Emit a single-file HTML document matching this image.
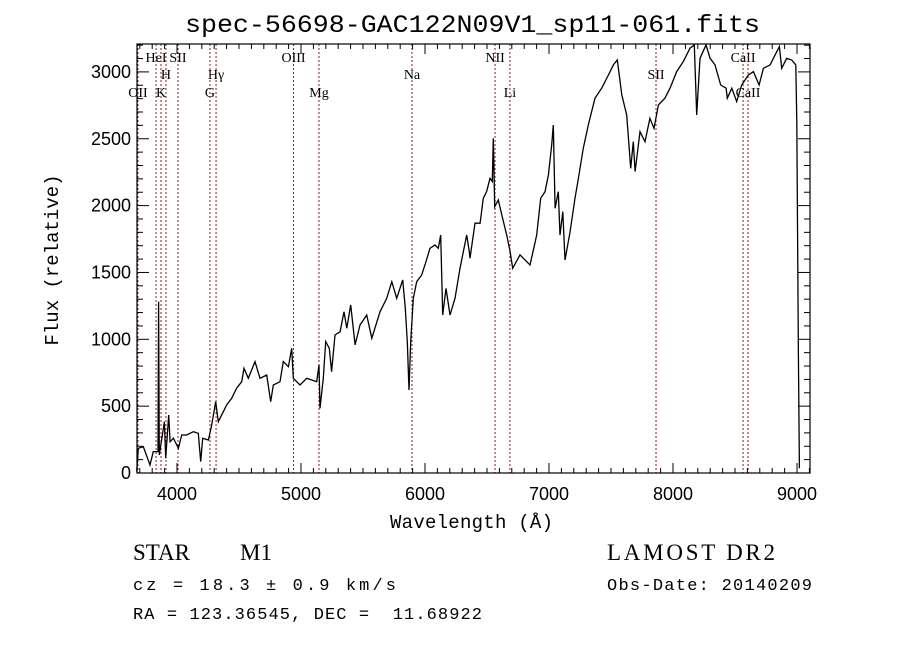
<!DOCTYPE html>
<html><head><meta charset="utf-8"><style>
body{margin:0;background:#fff;}
svg{display:block;}
text{fill:#000;}
</style></head><body>
<svg id="chart" width="900" height="649" viewBox="0 0 900 649" xmlns="http://www.w3.org/2000/svg">
<rect width="900" height="649" fill="#fff"/>
<text x="185" y="32" textLength="575" lengthAdjust="spacingAndGlyphs" font-family="Liberation Mono, monospace" font-size="25">spec-56698-GAC122N09V1_sp11-061.fits</text>
<g id="lines"></g>
<g id="ticks"></g>
<g id="labels"></g>
<polyline id="spec" fill="none" stroke="#000" stroke-width="1.3"/>
<rect x="137" y="44" width="673" height="429" fill="none" stroke="#000" stroke-width="1.2"/>
<text x="390" y="528" textLength="163" font-family="Liberation Mono, monospace" font-size="19">Wavelength (Å)</text>
<text transform="translate(58,260) rotate(-90)" text-anchor="middle" font-family="Liberation Mono, monospace" font-size="19">Flux (relative)</text>
<text x="133" y="560" font-family="Liberation Serif, serif" font-size="23">STAR</text>
<text x="240" y="560" font-family="Liberation Serif, serif" font-size="23">M1</text>
<text x="133" y="590" textLength="263" font-family="Liberation Mono, monospace" font-size="17">cz = 18.3 ± 0.9 km/s</text>
<text x="133" y="619" textLength="349" font-family="Liberation Mono, monospace" font-size="17" xml:space="preserve">RA = 123.36545, DEC =  11.68922</text>
<text x="607" y="560" textLength="168" font-family="Liberation Serif, serif" font-size="23">LAMOST DR2</text>
<text x="607" y="590" textLength="205" font-family="Liberation Mono, monospace" font-size="17">Obs-Date: 20140209</text>
</svg>
<script>
const wavelengths=[3675,3688,3728,3782,3809,3847,3852,3857,3898,3909,3933,3944,3971,4011,4038,4078,4132,4172,4191,4207,4253,4280,4312,4333,4401,4441,4481,4522,4540,4575,4629,4669,4723,4756,4777,4831,4857,4898,4925,4938,4992,5046,5127,5145,5153,5180,5199,5228,5247,5274,5315,5347,5369,5401,5436,5476,5530,5571,5637,5691,5732,5772,5820,5841,5857,5871,5885,5906,5933,5973,6008,6040,6081,6107,6127,6143,6169,6202,6242,6282,6336,6357,6363,6403,6444,6470,6497,6524,6543,6551,6562,6591,6619,6659,6686,6707,6766,6847,6901,6933,6968,6995,7022,7035,7049,7075,7089,7111,7129,7170,7210,7237,7277,7317,7371,7425,7479,7519,7551,7587,7627,7659,7680,7694,7734,7774,7814,7847,7882,7935,7976,8030,8083,8137,8172,8191,8218,8266,8299,8339,8385,8428,8438,8474,8514,8554,8608,8648,8694,8729,8783,8823,8858,8877,8917,8957,8990,8998,9011,9019];
const fluxes=[10,185,197,60,160,160,1281,135,384,110,434,234,260,185,284,284,309,297,85,260,247,359,533,384,509,559,634,683,783,708,833,708,733,533,658,683,833,795,933,708,658,708,683,808,484,708,982,933,758,1032,1057,1206,1082,1257,958,1107,1182,1008,1206,1307,1431,1307,1444,1232,982,621,982,1307,1431,1481,1581,1681,1705,1681,1780,1182,1381,1182,1307,1531,1780,1656,1606,1868,1868,2055,2104,2204,2180,2503,1992,2042,1930,1780,1656,1531,1631,1556,1780,2055,2104,2229,2453,2603,1980,2104,1780,1955,1593,1805,2055,2204,2429,2603,2803,2878,2977,3052,3089,2828,2678,2279,2478,2254,2553,2478,2653,2578,2753,2803,2878,3002,3077,3177,3201,2678,3102,3201,3102,3052,2902,2878,2803,2878,2778,2902,2977,3002,2902,3027,3052,3127,3189,3027,3102,3089,3052,2628,883,35];
const xTickValues=[4000,5000,6000,7000,8000,9000];
const yTickValues=[0,500,1000,1500,2000,2500,3000];
const lineNames=["OII","HeI","H","K","SII","Hγ","G","OIII","Mg","Na","NII","Li","SII","CaII","CaII"];
const lineWaves=[3685,3831,3911,3871,4008,4315,4266,4940,5145,5895,6565,6685,7863,8565,8605];
const lineRows=[2,0,1,2,0,1,2,0,2,1,0,2,1,0,2];
const X0=177,XS=0.124,Y0=473,YS=0.1337,L=137,R=810,T=44,B=473;
const xs=l=>X0+(l-4000)*XS, ys=f=>Y0-f*YS;
const NS="http://www.w3.org/2000/svg";
function mk(tag,attrs,parent){const e=document.createElementNS(NS,tag);for(const k in attrs)e.setAttribute(k,attrs[k]);parent.appendChild(e);return e;}
document.getElementById('spec').setAttribute('points',wavelengths.map((w,i)=>xs(w).toFixed(1)+','+ys(fluxes[i]).toFixed(1)).join(' '));
const lg=document.getElementById('lines');
const rowY=[62,79,97];
lineWaves.forEach((w,i)=>{
  const ln=mk('line',{x1:xs(w),x2:xs(w),y1:T,y2:B,stroke:'#8b1a1a','stroke-width':1,'stroke-dasharray':'2,2'},lg);
  
  
  const t=mk('text',{x:xs(w),y:rowY[lineRows[i]],'text-anchor':'middle','font-family':'Liberation Serif, serif','font-size':14},lg);
  t.textContent=lineNames[i];
  
  
});
const tg=document.getElementById('ticks'),lb=document.getElementById('labels');
for(let w=3700;w<=9100;w+=100){const x=xs(w);if(x<L||x>R)continue;const len=w%1000===0?10:5;
  mk('line',{x1:x,x2:x,y1:B,y2:B-len,stroke:'#000'},tg);mk('line',{x1:x,x2:x,y1:T,y2:T+len,stroke:'#000'},tg);}
for(let f=0;f<=3200;f+=100){const y=ys(f);if(y<T||y>B)continue;const len=f%500===0?12:6;
  mk('line',{x1:L,x2:L+len,y1:y,y2:y,stroke:'#000'},tg);mk('line',{x1:R,x2:R-len,y1:y,y2:y,stroke:'#000'},tg);}
xTickValues.forEach(v=>{const t=mk('text',{x:xs(v),y:500,'text-anchor':'middle','font-family':'Liberation Sans, sans-serif','font-size':18},lb);t.textContent=v;
  
  });
yTickValues.forEach(v=>{const t=mk('text',{x:131,y:ys(v)+6,'text-anchor':'end','font-family':'Liberation Sans, sans-serif','font-size':18},lb);t.textContent=v;
  
  });
</script>
</body></html>
